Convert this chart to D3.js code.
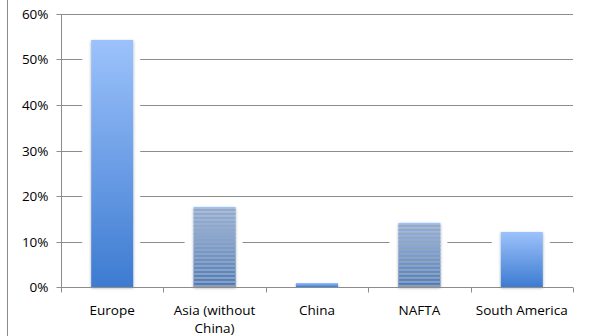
<!DOCTYPE html>
<html><head><meta charset="utf-8">
<script src="https://cdn.jsdelivr.net/npm/d3@7"></script>
<style>html,body{margin:0;padding:0;background:#fff;}svg{display:block;}</style>
</head><body>
<svg id="c" width="589" height="336"></svg>
<script>
const categories = ["Europe", "Asia (without China)", "China", "NAFTA", "South America"];
const labelLines = [["Europe"], ["Asia (without", "China)"], ["China"], ["NAFTA"], ["South America"]];
const values = [0.543, 0.176, 0.009, 0.141, 0.121];
const striped = [false, true, false, true, false];
const yTicks = [0, 0.1, 0.2, 0.3, 0.4, 0.5, 0.6];

const svg = d3.select("#c");
const m = {l: 61, r: 573, t: 14, b: 287};
const x = d3.scaleBand().domain(categories).range([m.l, m.r]).paddingInner(0.59).paddingOuter(0.295);
const y = d3.scaleLinear().domain([0, 0.6]).range([m.b, m.t]);
const font = "'Open Sans', 'Liberation Sans', sans-serif";
const fs = 13.5;

const defs = svg.append("defs");
const grad = defs.append("linearGradient").attr("id", "g").attr("x1", 0).attr("y1", 0).attr("x2", 0).attr("y2", 1);
grad.append("stop").attr("offset", "0%").attr("stop-color", "#9cc2fb");
grad.append("stop").attr("offset", "100%").attr("stop-color", "#3d7bd1");
const f = defs.append("filter").attr("id", "sh").attr("x", "-20%").attr("y", "-5%").attr("width", "140%").attr("height", "115%");
f.append("feGaussianBlur").attr("in", "SourceAlpha").attr("stdDeviation", 1.5);
f.append("feOffset").attr("dx", 0).attr("dy", 1).attr("result", "b");
f.append("feComponentTransfer").append("feFuncA").attr("type", "linear").attr("slope", 0.35);
const mg = f.append("feMerge"); mg.append("feMergeNode"); mg.append("feMergeNode").attr("in", "SourceGraphic");

// left frame line
svg.append("line").attr("x1", 7.5).attr("x2", 7.5).attr("y1", 0).attr("y2", 336).attr("stroke", "#8c8c8c").attr("stroke-width", 1);

// gridlines
svg.append("g").selectAll("line").data(yTicks.filter(d => d > 0)).join("line")
  .attr("x1", m.l).attr("x2", m.r).attr("y1", d => Math.round(y(d)) + 0.5).attr("y2", d => Math.round(y(d)) + 0.5)
  .attr("stroke", "#8c8c8c").attr("stroke-width", 1);

// y axis
const ya = svg.append("g").attr("transform", `translate(${m.l + 0.5},0)`)
  .call(d3.axisLeft(y).tickValues(yTicks).tickFormat(d3.format(".0%")).tickSize(5).tickPadding(8));
ya.select(".domain").remove();
ya.append("line").attr("x1", 0).attr("x2", 0).attr("y1", m.t).attr("y2", m.b).attr("stroke", "#8c8c8c");
ya.selectAll(".tick line").attr("stroke", "#8c8c8c");
ya.selectAll(".tick text").attr("font-family", font).attr("font-size", fs).attr("fill", "#000");
ya.selectAll(".tick").attr("transform", d => `translate(0,${Math.round(y(d)) + 0.5})`);

// halo (white area around bars interrupting gridlines)
svg.append("g").selectAll("rect").data(categories).join("rect")
  .attr("x", d => x(d) - 9).attr("width", x.bandwidth() + 16)
  .attr("y", (d, i) => y(values[i]) - 1).attr("height", (d, i) => m.b - y(values[i]) + 1)
  .attr("fill", "#fff");

// bars
svg.append("g").selectAll("rect").data(categories).join("rect")
  .attr("x", d => x(d)).attr("width", x.bandwidth())
  .attr("y", (d, i) => y(values[i])).attr("height", (d, i) => m.b - y(values[i]))
  .attr("fill", "url(#g)").attr("filter", "url(#sh)");

// stripes on striped bars
categories.forEach((c, i) => {
  if (!striped[i]) return;
  const top = y(values[i]);
  const ys = d3.range(top + 2, m.b - 1, 4);
  svg.append("g").selectAll("rect").data(ys).join("rect")
    .attr("x", x(c)).attr("width", x.bandwidth()).attr("y", d => d).attr("height", 2)
    .attr("fill", "#a3a3a3").attr("opacity", 0.9);
});

// x axis
const xa = svg.append("g").attr("transform", `translate(0,${m.b + 0.5})`);
xa.append("line").attr("x1", m.l).attr("x2", m.r).attr("stroke", "#8c8c8c");
const bounds = d3.range(categories.length + 1).map(i => m.l + i * (m.r - m.l) / categories.length);
xa.selectAll(".tk").data(bounds).join("line").attr("class", "tk")
  .attr("x1", d => Math.round(d) + 0.5).attr("x2", d => Math.round(d) + 0.5).attr("y1", 0).attr("y2", 5).attr("stroke", "#8c8c8c");
const lab = xa.selectAll(".lb").data(categories).join("text").attr("class", "lb")
  .attr("x", d => x(d) + x.bandwidth() / 2).attr("y", 27)
  .attr("text-anchor", "middle").attr("font-family", font).attr("font-size", fs).attr("fill", "#000");
lab.each(function(d, i) {
  const t = d3.select(this);
  labelLines[i].forEach((s, k) => t.append("tspan").attr("x", x(d) + x.bandwidth() / 2).attr("dy", k === 0 ? 0 : 18).text(s));
});
</script>
</body></html>
